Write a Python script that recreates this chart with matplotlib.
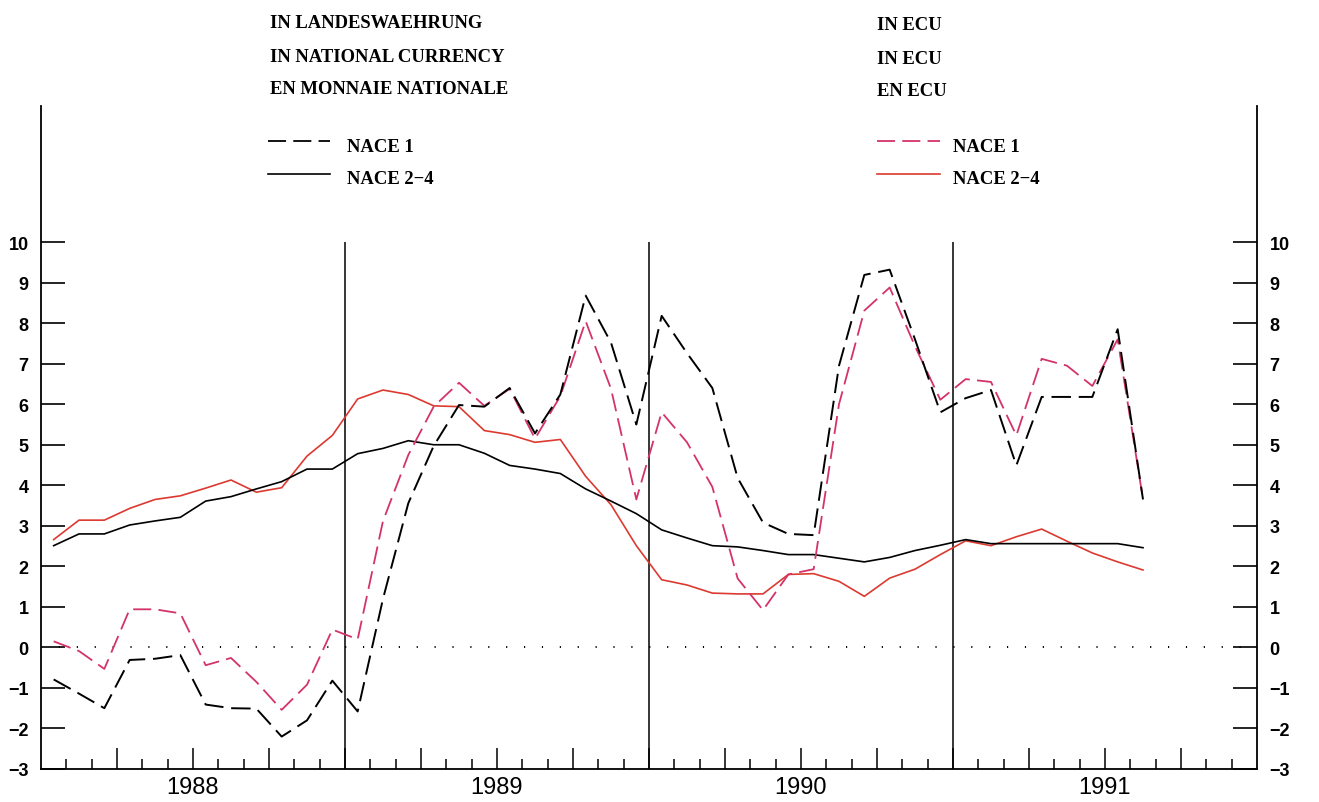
import numpy as np
import matplotlib.pyplot as plt

# monthly values, Jan 1988 - Aug 1991
months = np.arange(44) + 0.5

nace1_nat = [-0.79, -1.14, -1.50, -0.31, -0.28, -0.19, -1.41, -1.50, -1.51, -2.20, -1.80, -0.82,
             -1.58, 1.20, 3.56, 4.97, 5.98, 5.94, 6.40, 5.28, 6.24, 8.68, 7.52, 5.50,
             8.18, 7.26, 6.40, 4.18, 3.08, 2.80, 2.77, 6.95, 9.19, 9.32, 7.60, 5.80,
             6.15, 6.35, 4.49, 6.18, 6.18, 6.18, 7.85, 3.65]
nace1_ecu = [0.15, -0.09, -0.53, 0.94, 0.94, 0.84, -0.44, -0.26, -0.85, -1.54, -0.92, 0.44,
             0.20, 3.12, 4.75, 5.94, 6.53, 5.96, 6.38, 5.15, 6.20, 8.05, 6.38, 3.65,
             5.80, 5.06, 3.96, 1.70, 0.92, 1.80, 1.93, 6.00, 8.31, 8.88, 7.43, 6.11,
             6.62, 6.55, 5.23, 7.12, 6.95, 6.45, 7.60, 3.65]
nace24_nat = [2.51, 2.80, 2.80, 3.02, 3.12, 3.21, 3.61, 3.72, 3.91, 4.09, 4.40, 4.40,
              4.78, 4.91, 5.10, 5.00, 5.00, 4.79, 4.49, 4.40, 4.29, 3.91, 3.61, 3.30,
              2.90, 2.70, 2.51, 2.48, 2.39, 2.29, 2.29, 2.20, 2.11, 2.22, 2.39, 2.52,
              2.66, 2.56, 2.56, 2.56, 2.56, 2.56, 2.56, 2.46]
nace24_ecu = [2.66, 3.14, 3.14, 3.43, 3.65, 3.74, 3.93, 4.13, 3.83, 3.94, 4.72, 5.23,
              6.13, 6.35, 6.24, 5.96, 5.94, 5.35, 5.25, 5.06, 5.13, 4.22, 3.52, 2.51,
              1.67, 1.54, 1.34, 1.32, 1.32, 1.80, 1.82, 1.63, 1.26, 1.71, 1.93, 2.29,
              2.63, 2.51, 2.73, 2.92, 2.62, 2.33, 2.11, 1.91]

years = ["1988", "1989", "1990", "1991"]
yticks = list(range(-3, 11))

red_solid = "#dc3a30"
red_dash = "#d4336a"
dash = (0, (10, 4))

W, H = 1319, 803
fig = plt.figure(figsize=(W / 100, H / 100), dpi=100)
fig.patch.set_facecolor("white")

# axes box in pixel terms: left 41, right 1257, bottom 770, top 107
ax = fig.add_axes([41 / W, 1 - 770 / H, (1257 - 41) / W, (770 - 107) / H])
ax.set_xlim(0, 48)
ax.set_ylim(-3, 10 + (243 - 107) / 40.5)

ax.spines["top"].set_visible(False)
for s in ["left", "right", "bottom"]:
    ax.spines[s].set_linewidth(1.3)

# year separators and zero line
ax.vlines([12, 24, 36], -3, 10, color="black", lw=1.1)
ax.axhline(0, color="black", lw=1.4, linestyle=(0, (0.6, 8.6)))

ax.plot(months, nace24_ecu, color=red_solid, lw=1.2)
ax.plot(months, nace24_nat, color="black", lw=1.2)
ax.plot(months, nace1_ecu, color=red_dash, lw=1.3, linestyle=dash)
ax.plot(months, nace1_nat, color="black", lw=1.4, linestyle=dash)

# ticks
ax.set_yticks(yticks)
ax.set_yticklabels([str(t).replace("-", "\u2212") for t in yticks])
ax.tick_params(axis="y", which="both", direction="in", length=17, width=1.2,
               left=True, right=True, labelleft=True, labelright=True,
               labelsize=13, pad=9)
for lab in ax.get_yticklabels():
    lab.set_fontfamily("Liberation Sans")
    lab.set_fontweight("bold")

ax.set_xticks(np.arange(3, 48, 3))
ax.set_xticks(np.arange(1, 48), minor=True)
ax.tick_params(axis="x", which="major", direction="in", length=15, width=1.1, labelbottom=False)
ax.tick_params(axis="x", which="minor", direction="in", length=7, width=1.1)

for i, y in enumerate(years):
    ax.text(6 + 12 * i, -3.45, y, ha="center", va="center", fontsize=17,
            family="Liberation Sans", clip_on=False)

# header texts and legend
tfont = dict(family="Liberation Serif", weight="bold", fontsize=13.4, va="center", ha="left")


def px(x, y):
    return x / W, 1 - y / H


left_lines = ["IN LANDESWAEHRUNG", "IN NATIONAL CURRENCY", "EN MONNAIE NATIONALE"]
right_lines = ["IN ECU", "IN ECU", "EN ECU"]
for txt, yy in zip(left_lines, [24, 57, 90]):
    fig.text(*px(270, yy), txt, **tfont)
for txt, yy in zip(right_lines, [25, 59, 91]):
    fig.text(*px(877, yy), txt, **tfont)

legend_items = [
    (268, 330, 347, "black", "black"),
    (877, 940, 953, red_dash, red_solid),
]
for x0, x1, xt, cd, cs in legend_items:
    fig.add_artist(plt.Line2D([x0 / W, x1 / W], [1 - 142 / H, 1 - 142 / H],
                              color=cd, lw=1.3, linestyle=dash))
    fig.add_artist(plt.Line2D([x0 / W, x1 / W], [1 - 175 / H, 1 - 175 / H],
                              color=cs, lw=1.2))
    fig.text(*px(xt, 147), "NACE 1", **tfont)
    fig.text(*px(xt, 179), "NACE 2\u22124", **tfont)

fig.savefig("out.png", dpi=100, facecolor="white")
